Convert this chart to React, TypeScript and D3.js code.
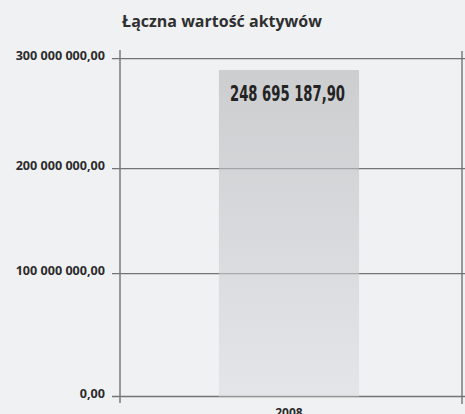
import React, { useEffect, useRef } from "react";
import * as d3 from "d3";

// data
const years = ["2008"];
const assetValues = [289700000]; // bar height as drawn against the axis
const valueLabels = ["248 695 187,90"];
const tickValues = [0, 100000000, 200000000, 300000000];
const tickLabels = ["0,00", "100 000 000,00", "200 000 000,00", "300 000 000,00"];
const title = "Łączna wartość aktywów";

const App = () => {
  const chartRef = useRef<SVGSVGElement | null>(null);

  const tWidth = 465;
  const tHeight = 414;

  useEffect(() => {
    const svg = d3.select(chartRef.current);
    svg.selectAll("*").remove();

    const left = 120,
      right = 462;

    svg.append("rect").attr("width", tWidth).attr("height", tHeight).attr("fill", "#f0f1f3");

    // gridlines in the original are not evenly spaced
    const y = d3.scaleLinear().domain(tickValues).range([396.5, 273.7, 168.7, 58.7]);

    const x = d3
      .scaleBand()
      .domain(years)
      .range([left, right])
      .paddingInner(0)
      .paddingOuter(0.72)
      .align(0.49);

    const defs = svg.append("defs");
    const grad = defs
      .append("linearGradient")
      .attr("id", "barGrad")
      .attr("x1", 0)
      .attr("y1", 0)
      .attr("x2", 0)
      .attr("y2", 1);
    grad.append("stop").attr("offset", "0%").attr("stop-color", "#b5b6b8").attr("stop-opacity", 0.6);
    grad.append("stop").attr("offset", "100%").attr("stop-color", "#dcdde0").attr("stop-opacity", 0.6);

    // grid
    svg
      .append("g")
      .selectAll("line")
      .data(tickValues)
      .join("line")
      .attr("x1", left - 8)
      .attr("x2", tWidth)
      .attr("y1", (d) => y(d))
      .attr("y2", (d) => y(d))
      .attr("stroke", "#747474")
      .attr("stroke-width", 1.3);

    // vertical axis lines
    svg
      .append("line")
      .attr("x1", left)
      .attr("x2", left)
      .attr("y1", 50)
      .attr("y2", 403)
      .attr("stroke", "#7a7a7a")
      .attr("stroke-width", 1.5);
    svg
      .append("line")
      .attr("x1", right)
      .attr("x2", right)
      .attr("y1", 51)
      .attr("y2", 404)
      .attr("stroke", "#6a6a6a")
      .attr("stroke-width", 1.3);

    // bars
    svg
      .append("g")
      .selectAll("rect")
      .data(assetValues)
      .join("rect")
      .attr("x", (d, i) => x(years[i]) as number)
      .attr("y", (d) => y(d))
      .attr("width", x.bandwidth())
      .attr("height", (d) => y(0) - y(d))
      .attr("fill", "url(#barGrad)");

    // bar labels
    svg
      .append("g")
      .selectAll("text")
      .data(valueLabels)
      .join("text")
      .attr("x", (d, i) => (x(years[i]) as number) + x.bandwidth() / 2 - 1.5)
      .attr("y", (d, i) => y(assetValues[i]) + 31)
      .attr("text-anchor", "middle")
      .attr("font-family", "'Liberation Sans Narrow', 'DejaVu Sans Condensed', 'Open Sans', sans-serif")
      .attr("font-weight", 700)
      .attr("font-size", 22)
      .attr("textLength", 115)
      .attr("lengthAdjust", "spacingAndGlyphs")
      .attr("fill", "#232323")
      .text((d) => d);

    // y tick labels
    svg
      .append("g")
      .selectAll("text")
      .data(tickValues)
      .join("text")
      .attr("x", 105)
      .attr("y", (d) => y(d) + 1.5)
      .attr("text-anchor", "end")
      .attr("font-family", "'Open Sans', sans-serif")
      .attr("font-weight", 700)
      .attr("font-size", 12.6)
      .attr("fill", "#2b2b2b")
      .text((d, i) => tickLabels[i]);

    // x labels
    svg
      .append("g")
      .selectAll("text")
      .data(years)
      .join("text")
      .attr("x", (d) => (x(d) as number) + x.bandwidth() / 2)
      .attr("y", 416.5)
      .attr("text-anchor", "middle")
      .attr("font-family", "'Open Sans', sans-serif")
      .attr("font-weight", 700)
      .attr("font-size", 12)
      .attr("fill", "#2b2b2b")
      .text((d) => d);

    // title
    svg
      .append("text")
      .attr("x", 222)
      .attr("y", 27)
      .attr("text-anchor", "middle")
      .attr("font-family", "'Open Sans', sans-serif")
      .attr("font-weight", 700)
      .attr("font-size", 16)
      .attr("fill", "#2f2f2f")
      .text(title);
  }, []);

  return (
    <div id="chartD3">
      <svg
        ref={chartRef}
        width={tWidth}
        height={tHeight}
        style={{ position: "fixed", top: 0, left: 0, display: "block" }}
      ></svg>
    </div>
  );
};

export default App;
